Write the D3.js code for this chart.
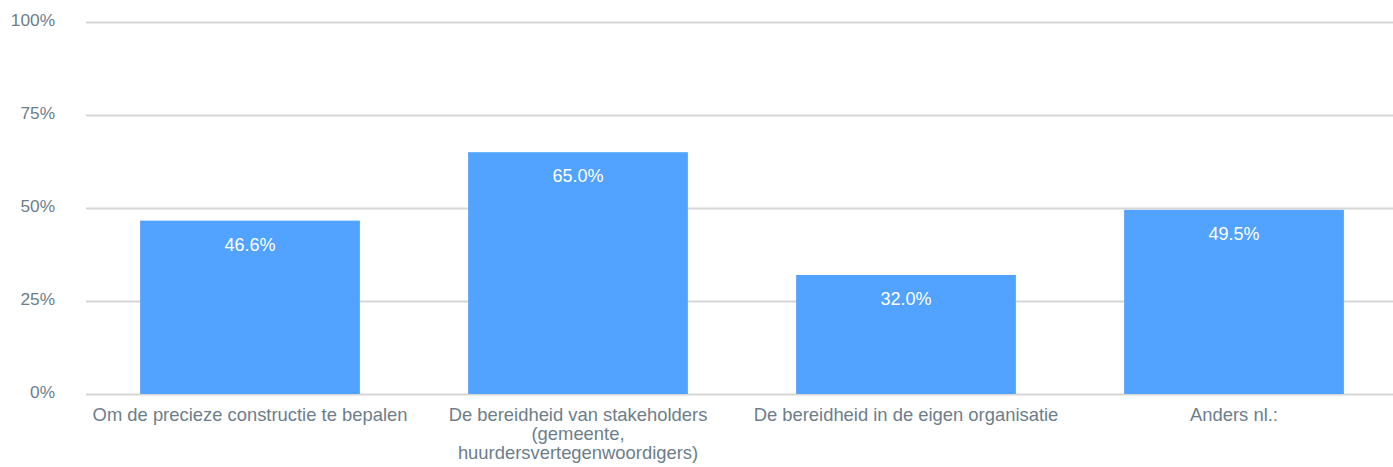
<!DOCTYPE html>
<html>
<head>
<meta charset="utf-8">
<script src="https://cdn.jsdelivr.net/npm/d3@7"></script>
<style>
  body { margin: 0; background: #fff; }
  svg { display: block; font-family: "Liberation Sans", Arial, Helvetica, sans-serif; }
</style>
</head>
<body>
<svg id="chart"></svg>
<script>
var width = 1393;
var height = 467;

// data
var categories = [
  "Om de precieze constructie te bepalen",
  "De bereidheid van stakeholders (gemeente, huurdersvertegenwoordigers)",
  "De bereidheid in de eigen organisatie",
  "Anders nl.:"
];
var values = [46.6, 65.0, 32.0, 49.5];
var yTicks = [0, 25, 50, 75, 100];

var margin = {top: 22, right: -5, bottom: 73, left: 86};

var svg = d3.select('#chart')
    .attr('width', width)
    .attr('height', height);

var x = d3.scaleBand()
    .domain(categories)
    .range([margin.left, width - margin.right])
    .paddingInner(0.33)
    .paddingOuter(0.165);

var y = d3.scaleLinear()
    .domain([0, 100])
    .range([height - margin.bottom, margin.top]);

var textColor = '#6d7e8a';

// grid lines + tick labels
var yAxis = d3.axisLeft(y)
    .tickValues(yTicks)
    .tickSize(0)
    .tickPadding(0)
    .tickFormat(function(d){ return d + '%'; });

var gy = svg.append('g')
    .attr('transform', 'translate(' + margin.left + ',0)')
    .call(yAxis);
gy.select('.domain').remove();
gy.selectAll('.tick line')
    .attr('x2', width - margin.left)
    .attr('stroke', '#d6d6d6')
    .attr('stroke-width', 2);
gy.selectAll('.tick text')
    .attr('x', -31)
    .attr('fill', textColor)
    .style('font-size', '17.3px')
    .attr('dy', '0.2em');

// bars
svg.selectAll('rect.bar')
    .data(values)
    .enter().append('rect')
    .attr('class', 'bar')
    .attr('x', function(d, i){ return x(categories[i]); })
    .attr('width', x.bandwidth())
    .attr('y', function(d){ return y(d); })
    .attr('height', function(d){ return y(0) - y(d); })
    .style('fill', '#52a3ff');

// value labels
svg.selectAll('text.val')
    .data(values)
    .enter().append('text')
    .attr('class', 'val')
    .attr('x', function(d, i){ return x(categories[i]) + x.bandwidth() / 2; })
    .attr('y', function(d){ return y(d) + 30; })
    .attr('text-anchor', 'middle')
    .attr('fill', '#ffffff')
    .style('font-size', '18px')
    .text(function(d){ return d.toFixed(1) + '%'; });

// x axis labels, wrapped
var gx = svg.append('g')
    .attr('transform', 'translate(0,' + y(0) + ')')
    .call(d3.axisBottom(x).tickSize(0).tickPadding(0));
gx.select('.domain').remove();
gx.selectAll('.tick text')
    .attr('fill', textColor)
    .style('font-size', '18.4px')
    .attr('y', 27)
    .attr('dy', 0)
    .call(wrap, 320);

function wrap(texts, maxWidth) {
  texts.each(function(){
    var text = d3.select(this);
    var words = text.text().split(/\s+/);
    var line = [];
    var lineNo = 0;
    var yy = text.attr('y');
    text.text(null);
    var tspan = text.append('tspan').attr('x', 0).attr('y', yy);
    words.forEach(function(w){
      line.push(w);
      tspan.text(line.join(' '));
      if (tspan.node().getComputedTextLength() > maxWidth && line.length > 1) {
        line.pop();
        tspan.text(line.join(' '));
        line = [w];
        lineNo++;
        tspan = text.append('tspan').attr('x', 0).attr('y', +yy + lineNo * 19).text(w);
      }
    });
  });
}
</script>
</body>
</html>
